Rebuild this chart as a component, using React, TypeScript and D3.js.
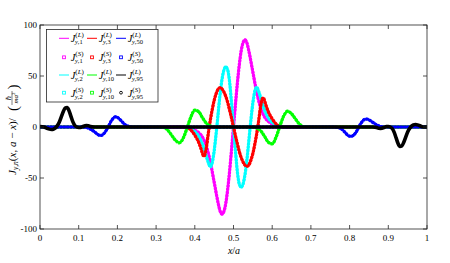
import React from 'react';
import * as d3 from 'd3';

const xTicks = [0, 0.1, 0.2, 0.3, 0.4, 0.5, 0.6, 0.7, 0.8, 0.9, 1];
const xTickLabels = ['0', '0.1', '0.2', '0.3', '0.4', '0.5', '0.6', '0.7', '0.8', '0.9', '1'];
const yTicks = [-100, -50, 0, 50, 100];
const yTickLabels = ['-100', '-50', '0', '50', '100'];

// n = 1 (magenta)
const n1X = [0, 0.35, 0.37, 0.38, 0.39, 0.40, 0.41, 0.42, 0.43, 0.44, 0.45, 0.46, 0.465, 0.47, 0.475, 0.48, 0.485, 0.49, 0.495, 0.50,
  0.505, 0.51, 0.515, 0.52, 0.525, 0.53, 0.535, 0.54, 0.55, 0.56, 0.57, 0.58, 0.59, 0.60, 0.61, 0.62, 0.63, 0.65, 1];
const n1Y = [0, 0, -0.3, -0.8, -1.5, -3, -5.5, -10, -19, -34, -54, -74, -82, -85.5, -83, -75, -61, -43, -22, 0,
  22, 43, 61, 75, 83, 85.5, 82, 74, 54, 34, 19, 10, 5.5, 3, 1.5, 0.8, 0.3, 0, 0];

// n = 2 (cyan)
const n2X = [0, 0.36, 0.38, 0.39, 0.40, 0.41, 0.42, 0.43, 0.435, 0.44, 0.445, 0.45, 0.455, 0.46, 0.465, 0.47, 0.475, 0.48, 0.485, 0.49, 0.495, 0.50,
  0.505, 0.51, 0.515, 0.52, 0.525, 0.53, 0.535, 0.54, 0.545, 0.55, 0.555, 0.56, 0.565, 0.57, 0.58, 0.59, 0.60, 0.61, 0.62, 0.64, 1];
const n2Y = [0, 0, -0.5, -2, -4.5, -9, -17, -29, -35, -39, -35, -23.5, -7, 12, 31, 46, 55.5, 59, 56, 44, 23, 0,
  -23, -44, -56, -59, -55.5, -46, -31, -12, 7, 23.5, 35, 39, 35, 29, 17, 9, 4.5, 2, 0.5, 0, 0];

// n = 3 (red)
const n3X = [0, 0.37, 0.38, 0.39, 0.40, 0.41, 0.415, 0.42, 0.4225, 0.425, 0.43, 0.435, 0.44, 0.445, 0.45, 0.455, 0.46, 0.465, 0.47, 0.475, 0.48, 0.485, 0.49, 0.495, 0.50,
  0.505, 0.51, 0.515, 0.52, 0.525, 0.53, 0.535, 0.54, 0.545, 0.55, 0.555, 0.56, 0.565, 0.57, 0.575, 0.5775, 0.58, 0.585, 0.59, 0.60, 0.61, 0.62, 0.63, 1];
const n3Y = [0, 0, -0.5, -3, -8, -15, -20, -26, -28.5, -28, -20, -6, 6.5, 17, 26, 32.5, 37, 38.5, 37.5, 34.5, 30, 24, 16.5, 8.5, 0,
  -8.5, -16.5, -24, -30, -34.5, -37.5, -38.5, -37, -32.5, -26, -17, -6.5, 6, 20, 28, 28.5, 26, 20, 15, 8, 3, 0.5, 0, 0];

// n = 10 (green)
const n10X = [0, 0.30, 0.32, 0.33, 0.34, 0.35, 0.36, 0.37, 0.38, 0.39, 0.40, 0.41, 0.42, 0.43, 0.44, 0.45,
  0.55, 0.56, 0.57, 0.58, 0.59, 0.60, 0.61, 0.62, 0.63, 0.64, 0.65, 0.66, 0.67, 0.68, 0.70, 1];
const n10Y = [0, 0, -0.5, -3, -8, -13, -15.5, -11, -1, 10, 16.5, 15, 9, 3.5, 1, 0,
  0, -1, -3.5, -9, -15, -16.5, -10, 1, 11, 15.5, 13, 8, 3, 0.5, 0, 0];

// n = 50 (blue)
const n50X = [0, 0.11, 0.12, 0.13, 0.14, 0.15, 0.155, 0.16, 0.165, 0.17, 0.175, 0.18, 0.185, 0.19, 0.195, 0.20, 0.205, 0.21, 0.215, 0.22, 0.23, 0.24,
  0.76, 0.77, 0.78, 0.785, 0.79, 0.795, 0.80, 0.805, 0.81, 0.815, 0.82, 0.825, 0.83, 0.835, 0.84, 0.845, 0.85, 0.86, 0.87, 0.88, 0.89, 1];
const n50Y = [0, 0, -0.5, -2, -4.5, -7.5, -8.3, -8, -6.5, -4, -0.8, 3, 6.5, 9, 10, 9.5, 8, 6, 4, 2.2, 0.5, 0,
  0, -0.5, -2.2, -4, -6, -8, -9, -9, -8, -6, -3, 0.8, 4, 6.5, 7.5, 7.8, 7, 4.5, 2, 0.5, 0, 0];

// n = 95 (black)
const n95X = [0, 0.01, 0.02, 0.03, 0.035, 0.04, 0.045, 0.05, 0.055, 0.06, 0.065, 0.07, 0.075, 0.08, 0.085, 0.09, 0.095, 0.10, 0.105, 0.11, 0.12, 0.125, 0.13, 0.14,
  0.86, 0.87, 0.875, 0.88, 0.89, 0.895, 0.90, 0.905, 0.91, 0.915, 0.92, 0.925, 0.93, 0.935, 0.94, 0.945, 0.95, 0.955, 0.96, 0.965, 0.97, 0.98, 0.99, 1];
const n95Y = [0.5, 0, -1.5, -2.5, -2, -0.8, 1.5, 5, 10, 15, 18.5, 19, 16, 10.5, 5, 1.5, 0, -0.5, -0.5, 0.3, 1.3, 1.2, 0.5, 0,
  0, -0.5, -1.2, -1.3, -0.3, 0.5, 0.5, 0, -1.5, -5, -10.5, -16, -19, -18.5, -15, -10, -5, -1.5, 0.8, 2, 2.5, 1.5, 0, 0];

const seriesN = ['1', '2', '3', '10', '50', '95'];
const seriesXs = [n1X, n2X, n3X, n10X, n50X, n95X];
const seriesYs = [n1Y, n2Y, n3Y, n10Y, n50Y, n95Y];
const seriesColors = ['#ff00ff', '#00ffff', '#ff0000', '#00ff00', '#0000ff', '#000000'];

// legend layout order (3 columns x 4 rows)
const legendCols = [['1', '2'], ['3', '10'], ['50', '95']];

const FONT = "'Liberation Serif', 'DejaVu Serif', serif";

function JLabel({ x, y, kind, n }: { x: number; y: number; kind: string; n: string }) {
  return (
    <g>
      <text x={x} y={y + 4} fontSize={10.5} fontStyle="italic" fontFamily={FONT} fill="#000">J</text>
      <text x={x + 4.6} y={y - 1} fontSize={7} fontFamily={FONT} fill="#000">
        (<tspan fontStyle="italic">{kind}</tspan>)
      </text>
      <text x={x + 4.2} y={y + 5.8} fontSize={6.5} fontFamily={FONT} fill="#000">
        <tspan fontStyle="italic">y</tspan>,{n}
      </text>
    </g>
  );
}

export default function App() {
  const W = 450, H = 263;
  const L = 40, R = 427, T = 25, B = 229;
  const x = d3.scaleLinear().domain([0, 1]).range([L, R]);
  const y = d3.scaleLinear().domain([-100, 100]).range([B, T]);
  const line = d3.line<[number, number]>().x(d => x(d[0])).y(d => y(d[1])).curve(d3.curveMonotoneX);
  const axisColor = '#262626';
  const tickLen = 4;

  const curves = seriesN.map((n, i) => {
    const pts: [number, number][] = seriesXs[i].map((xv, j) => [xv, seriesYs[i][j]]);
    return { n, color: seriesColors[i], d: line(pts) || '' };
  });

  const colX = [59, 87, 116];
  const rowY = [38.3, 57.3, 75, 92.7];
  const colorOf = (n: string) => seriesColors[seriesN.indexOf(n)];

  return (
    <svg width={W} height={H} style={{ position: 'absolute', left: 0, top: 0, background: '#fff' }}>
      <rect x={0} y={0} width={W} height={H} fill="#fff" />
      <defs>
        <clipPath id="plotclip"><rect x={L} y={T} width={R - L} height={B - T} /></clipPath>
      </defs>
      <g clipPath="url(#plotclip)">
        {curves.map(c => {
          const isBlack = c.n === '95';
          return (
            <g key={c.n}>
              <path d={c.d} fill="none" stroke={c.color} strokeWidth={1} />
              <path d={c.d} fill="none" stroke={c.color} strokeWidth={isBlack ? 3.6 : 2.5} strokeLinejoin="round" />
              {!isBlack && (
                <path d={c.d} fill="none" stroke={c.color} strokeWidth={3.2} strokeDasharray="2.5 0.8" />
              )}
            </g>
          );
        })}
      </g>
      {/* axes box */}
      <rect x={L} y={T} width={R - L} height={B - T} fill="none" stroke={axisColor} strokeWidth={0.8} />
      {xTicks.map((t, i) => (
        <g key={'xt' + i}>
          <line x1={x(t)} x2={x(t)} y1={B} y2={B - tickLen} stroke={axisColor} strokeWidth={0.8} />
          <line x1={x(t)} x2={x(t)} y1={T} y2={T + tickLen} stroke={axisColor} strokeWidth={0.8} />
          <text x={x(t)} y={240.5} fontSize={9} fontFamily={FONT} textAnchor="middle" fill="#000">{xTickLabels[i]}</text>
        </g>
      ))}
      {yTicks.map((t, i) => (
        <g key={'yt' + i}>
          <line x1={L} x2={L + tickLen} y1={y(t)} y2={y(t)} stroke={axisColor} strokeWidth={0.8} />
          <line x1={R} x2={R - tickLen} y1={y(t)} y2={y(t)} stroke={axisColor} strokeWidth={0.8} />
          <text x={37} y={y(t) + 3} fontSize={9} fontFamily={FONT} textAnchor="end" fill="#000">{yTickLabels[i]}</text>
        </g>
      ))}
      {/* x label */}
      <text x={234} y={253.5} fontSize={10} fontFamily={FONT} textAnchor="middle" fill="#000">
        <tspan fontStyle="italic">x</tspan>/<tspan fontStyle="italic">a</tspan>
      </text>
      {/* y label */}
      <g transform="translate(16,128) rotate(-90)">
        <text x={-47} y={0} fontSize={11} fontFamily={FONT} fill="#000">
          <tspan fontStyle="italic">J</tspan>
          <tspan fontSize={7.5} dy={2} fontStyle="italic">y</tspan>
          <tspan fontSize={7.5}>,</tspan>
          <tspan fontSize={7.5} fontStyle="italic">n</tspan>
          <tspan dy={-2}>(</tspan>
          <tspan fontStyle="italic">x</tspan>
          <tspan>, </tspan>
          <tspan fontStyle="italic">a</tspan>
          <tspan> − </tspan>
          <tspan fontStyle="italic">x</tspan>
          <tspan>)/</tspan>
        </text>
        <text x={17} y={1.5} fontSize={15} fontFamily={FONT} fill="#000">(</text>
        <text x={30} y={-5.5} fontSize={7} fontFamily={FONT} fill="#000" textAnchor="middle">ℏ</text>
        <line x1={23} x2={37} y1={-4} y2={-4} stroke="#000" strokeWidth={0.5} />
        <text x={30} y={1.8} fontSize={7} fontFamily={FONT} fill="#000" textAnchor="middle">
          <tspan fontStyle="italic">ma</tspan><tspan fontSize={5} dy={-2.5}>2</tspan>
        </text>
        <text x={38.5} y={1.5} fontSize={15} fontFamily={FONT} fill="#000">)</text>
      </g>
      {/* legend */}
      <rect x={46.5} y={29.5} width={111.5} height={72.5} fill="#fff" stroke={axisColor} strokeWidth={0.8} />
      {legendCols.map((col, ci) => (
        <g key={'lc' + ci}>
          {col.map((n, k) => {
            const c = colorOf(n);
            const yl = rowY[k * 2];
            const ym = rowY[k * 2 + 1];
            const x0 = colX[ci];
            return (
              <g key={n}>
                <line x1={x0} x2={x0 + 10} y1={yl} y2={yl} stroke={c} strokeWidth={1} />
                <JLabel x={x0 + 11.7} y={yl} kind="L" n={n} />
                {n === '95'
                  ? <circle cx={x0 + 5} cy={ym} r={1.4} fill="none" stroke={c} strokeWidth={0.9} />
                  : <rect x={x0 + 3.6} y={ym - 1.4} width={2.8} height={2.8} fill="none" stroke={c} strokeWidth={0.9} />}
                <JLabel x={x0 + 11.7} y={ym} kind="S" n={n} />
              </g>
            );
          })}
        </g>
      ))}
    </svg>
  );
}
